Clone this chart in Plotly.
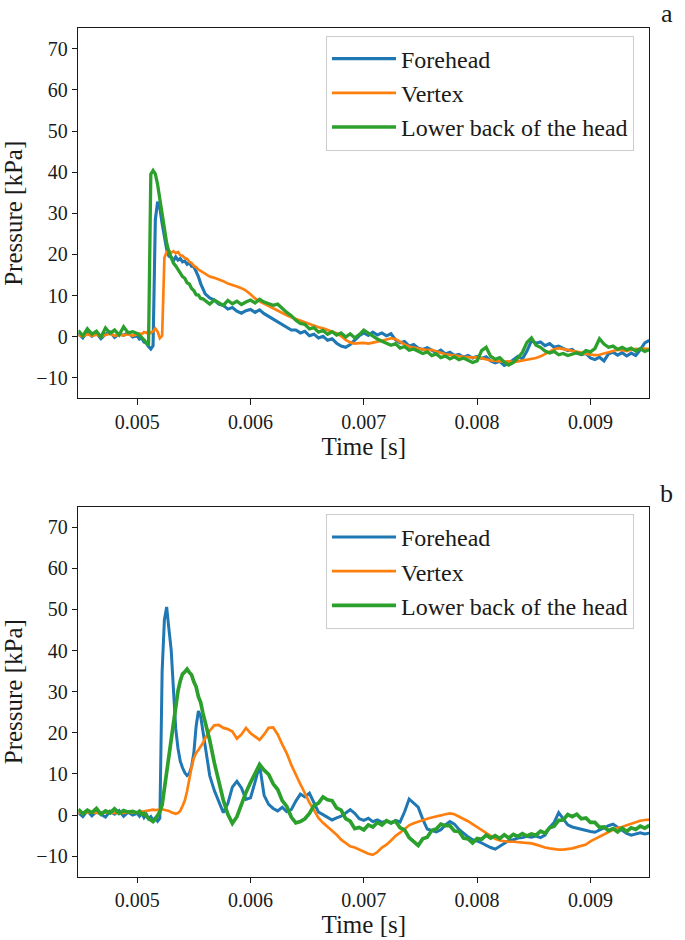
import plotly.graph_objects as go

# ---------------- data ----------------
# sample times in units of 1e-5 s (denser around the impact)
t_units = list(range(448, 500, 4)) + list(range(500, 560, 2)) + list(range(560, 953, 4))
time_s = [u / 1e5 for u in t_units]

series_names = ["Forehead", "Vertex", "Lower back of the head"]

# Panel a
a_forehead = [
    0.8, -0.3, 1.2, 0.1, 0.9, -0.5, 0.6, 1.1, -0.2, 0.7, 0.3, 1.0, -0.1,
    0.2, -0.6, -0.4, -1.3, -1.6, -2.4, -3.0, -2.2, 28.5, 32.8,
    31.2, 27.5, 24.3, 21.2, 19.6, 19.3, 18.5, 19.4, 18.6, 19.0,
    18.2, 18.4, 17.6, 18.0, 17.1, 17.0, 15.8, 14.6, 12.9, 11.4,
    10.4, 9.4, 8.9, 7.9, 7.6, 6.7, 7.1, 6.2, 5.7, 6.3,
    6.6, 5.9, 6.5, 5.6, 4.9, 4.4, 3.6, 2.9, 2.3, 1.6,
    1.6, 0.9, 1.3, 0.2, 0.6, -0.3, 0.1, -0.9, -0.5, -1.6,
    -2.3, -2.6, -1.9, -0.8, 0.2, 0.9, 0.3, 1.1, 0.4, 0.9,
    0.2, 0.7, -0.8, -1.5, -1.2, -2.3, -1.9, -2.8, -3.1, -2.7,
    -3.4, -3.9, -3.3, -4.2, -3.8, -4.6, -4.3, -5.0, -4.6, -5.2,
    -4.8, -5.3, -4.9, -5.9, -6.4, -6.0, -7.0, -6.5, -5.6, -4.8,
    -5.4, -3.5, -1.0, -1.6, -1.3, -2.2, -1.7, -2.6, -2.3, -2.9,
    -3.4, -3.1, -4.0, -4.4, -4.1, -5.2, -5.6, -5.0, -5.9, -4.2,
    -3.8, -4.5, -3.9, -4.7, -4.0, -4.6, -3.2, -1.5, -0.9,
]
a_vertex = [
    0.4, 0.1, 0.6, 0.2, 0.5, 0.0, 0.4, 0.7, 0.2, 0.5, 0.3, 0.6, 0.2,
    0.5, 0.8, 0.6, 1.1, 0.9, 1.4, 0.9, 1.3, 2.0, 1.2,
    -0.4, 0.2, 19.2, 20.6, 20.9, 20.4, 20.8, 20.3, 20.6, 19.8,
    19.7, 19.1, 18.9, 18.2, 17.9, 17.2, 16.9, 16.3, 16.0, 15.6,
    15.2, 14.6, 14.3, 13.9, 13.5, 12.9, 12.6, 12.2, 11.8, 11.2,
    10.3, 9.3, 8.6, 8.0, 7.5, 6.8, 6.3, 5.7, 5.2, 4.7,
    4.3, 3.9, 3.4, 3.0, 2.7, 2.3, 2.0, 1.6, 1.2, 0.8,
    0.1, -0.8, -1.4, -1.7, -1.6, -1.5, -1.7, -1.4, -1.2, -1.0,
    -0.7, -0.4, -0.6, -1.3, -1.9, -2.4, -2.7, -2.9, -3.1, -3.3,
    -3.2, -3.6, -4.0, -4.3, -4.4, -4.6, -4.8, -4.9, -5.0, -5.1,
    -5.0, -5.3, -5.5, -5.8, -5.9, -6.0, -6.1, -6.0, -6.2, -6.0,
    -5.8, -5.6, -5.4, -5.2, -4.8, -4.2, -3.6, -3.1, -2.8, -3.0,
    -3.3, -3.5, -3.6, -3.9, -4.2, -4.3, -4.5, -4.4, -4.1, -3.7,
    -3.4, -3.2, -3.3, -3.5, -3.2, -3.0, -3.1, -2.9, -3.0,
]
a_lower = [
    1.5, 0.2, 1.9, 0.6, 1.3, -0.1, 2.1, 0.8, 1.6, 0.4, 2.4, 0.9, 1.2,
    0.8, 0.3, -0.2, -0.8, -1.5, -2.1, 39.5, 40.4, 39.6, 37.0,
    33.4, 29.6, 26.3, 22.8, 20.6, 19.3, 17.9, 17.2, 16.3, 15.6,
    14.6, 14.2, 13.1, 12.8, 11.7, 11.2, 10.2, 10.1, 9.3, 9.2,
    8.7, 7.9, 8.9, 8.2, 7.6, 8.8, 8.0, 8.6, 7.8, 8.4,
    8.9, 8.2, 9.1, 8.4, 8.0, 7.6, 7.9, 6.8, 5.9, 5.1,
    4.0, 3.2, 3.0, 1.9, 2.2, 1.1, 1.5, 0.6, 1.2, 0.4,
    0.9, -0.1, 0.7, -0.3, 0.5, 1.6, 0.8, 0.2, -0.6, -1.1,
    -1.6, -2.1, -1.7, -2.8, -2.4, -3.3, -3.0, -3.6, -4.1, -3.7,
    -4.6, -4.2, -5.1, -4.7, -5.4, -4.9, -5.6, -5.2, -5.8, -6.3,
    -5.9, -3.4, -2.6, -4.8, -5.5, -5.1, -6.2, -6.9, -6.3, -5.2,
    -3.8, -1.4, -0.3, -2.1, -2.6, -3.5, -4.0, -3.6, -4.4, -4.1,
    -4.6, -4.2, -3.9, -4.3, -3.4, -3.7, -2.9, -0.5, -1.8, -2.6,
    -2.3, -3.1, -2.6, -3.2, -2.8, -3.5, -2.9, -3.6, -3.2,
]

# Panel b
b_forehead = [
    0.6, -0.4, 1.0, -0.2, 0.8, 0.1, -0.5, 0.9, 0.2, 1.1, -0.3, 0.7, 0.0,
    0.4, -0.3, 0.5, -0.6, 0.2, -0.9, -0.4, -1.3, -0.7, -1.5,
    -0.8, 35.0, 47.5, 50.6, 45.2, 40.1, 30.5, 21.0, 16.2, 13.1,
    11.5, 10.3, 9.6, 10.1, 11.8, 15.2, 21.6, 25.3, 24.0, 20.3,
    17.5, 9.6, 6.0, 3.2, 0.6, 2.8, 6.8, 8.2, 6.6, 3.8,
    4.2, 8.0, 12.2, 4.8, 2.6, 1.6, 1.0, 1.9, 0.8, 1.3,
    3.4, 5.1, 4.4, 5.3, 3.0, 0.7, 0.1, -0.6, -1.2, -0.7,
    -0.3, 0.5, 1.3, 0.4, -0.9, -1.3, -0.8, -1.6, -1.2, -1.8,
    -1.4, -2.0, -1.3, -1.7, 0.8, 3.9, 2.8, 1.9, -1.0, -3.4,
    -3.8, -4.1, -3.6, -2.4, -1.6, -2.2, -3.5, -4.5, -5.3, -6.0,
    -6.3, -6.8, -7.4, -7.9, -8.3, -7.6, -6.9, -6.2, -6.0, -5.6,
    -5.5, -5.2, -5.4, -5.1, -5.5, -4.9, -3.0, -1.8, 0.6, -0.8,
    -2.4, -2.9, -3.2, -3.5, -3.8, -4.0, -4.2, -3.6, -3.1, -2.6,
    -2.2, -2.9, -3.8, -4.5, -4.9, -4.6, -4.3, -4.6, -4.4,
]
b_vertex = [
    0.6, 0.5, 0.7, 0.6, 0.5, 0.6, 0.7, 0.5, 0.6, 0.6, 0.5, 0.7, 0.6,
    0.6, 0.7, 0.8, 0.9, 1.0, 1.1, 1.2, 1.3, 1.2, 1.2,
    1.3, 1.4, 1.3, 1.2, 1.0, 0.7, 0.4, 0.3, 0.5, 1.0,
    2.2, 3.5, 5.8, 9.0, 11.6, 13.9, 15.1, 15.8, 16.6, 17.5,
    18.7, 20.5, 21.8, 21.9, 21.2, 20.9, 20.3, 18.6, 19.6, 21.2,
    19.9, 19.0, 18.3, 19.6, 21.2, 21.3, 19.6, 17.2, 15.0, 12.2,
    9.7, 7.5, 5.3, 3.0, 1.2, -0.7, -1.9, -2.8, -3.7, -4.8,
    -6.0, -6.8, -7.6, -7.9, -8.4, -8.9, -9.4, -9.7, -9.0, -7.9,
    -7.2, -6.2, -5.1, -4.3, -3.4, -2.5, -2.0, -1.6, -1.3, -0.9,
    -0.6, -0.4, -0.1, 0.2, 0.4, 0.2, -0.3, -0.9, -1.5, -2.2,
    -2.9, -3.6, -4.4, -5.1, -5.8, -6.2, -6.4, -6.5, -6.5, -6.6,
    -6.7, -6.9, -6.9, -7.2, -7.6, -7.9, -8.1, -8.3, -8.4, -8.4,
    -8.3, -8.1, -7.8, -7.5, -7.2, -6.4, -5.8, -5.3, -4.8, -4.2,
    -3.6, -3.1, -2.9, -2.5, -2.1, -1.8, -1.4, -1.2, -1.1,
]
b_lower = [
    1.4, 0.3, 1.2, 0.6, 1.6, 0.2, 1.0, 0.5, 1.5, 0.4, 1.1, 0.7, 0.9,
    0.5, 0.9, 0.2, 0.4, -0.3, -0.8, -1.2, -1.6, -1.0, -0.2,
    0.8, 2.5, 6.5, 10.8, 15.0, 19.2, 23.2, 27.0, 30.2, 32.6,
    34.3, 34.8, 35.5, 34.7, 34.1, 32.4, 31.2, 28.8, 27.4, 24.8,
    22.8, 18.2, 12.8, 7.9, 3.6, 0.2, -2.0, -0.4, 2.6, 5.5,
    7.9, 10.2, 12.3, 10.9, 9.9, 7.6, 6.2, 3.5, 2.1, -0.5,
    -1.9, -1.6, -0.9, 0.4, 2.3, 2.9, 4.4, 3.7, 3.5, 1.7,
    1.2, -0.9, -1.5, -3.3, -3.0, -3.6, -2.4, -2.9, -1.8, -2.4,
    -1.4, -1.9, -1.5, -3.1, -3.6, -5.5, -6.5, -7.4, -5.8, -5.4,
    -3.7, -3.4, -2.2, -2.6, -2.6, -3.9, -4.0, -5.6, -5.8, -6.8,
    -5.7, -5.9, -4.9, -5.6, -5.0, -5.7, -4.8, -5.6, -4.7, -5.2,
    -4.5, -5.1, -4.6, -4.9, -3.9, -4.4, -3.1, -2.7, -1.3, -1.2,
    0.1, -0.4, 0.2, -0.9, -0.7, -1.8, -1.8, -3.0, -2.9, -3.8,
    -3.3, -4.1, -3.2, -4.0, -3.1, -3.5, -2.7, -3.2, -2.5,
]

x_tick_vals = [0.005, 0.006, 0.007, 0.008, 0.009]
y_tick_vals = [-10, 0, 10, 20, 30, 40, 50, 60, 70]
panel_labels = ["a", "b"]

for s in (a_forehead, a_vertex, a_lower, b_forehead, b_vertex, b_lower):
    assert len(s) == len(time_s), (len(s), len(time_s))

# ---------------- figure ----------------
FONT = "Times New Roman, Liberation Serif, serif"
INK = "#1a1a1a"
colors = ["#1f77b4", "#ff7f0e", "#2ca02c"]
widths_a = [3.1, 2.7, 3.3]
widths_b = [3.0, 2.7, 3.7]

fig = go.Figure()
panels = [
    ("x", "y", "legend", [a_forehead, a_vertex, a_lower], widths_a),
    ("x2", "y2", "legend2", [b_forehead, b_vertex, b_lower], widths_b),
]
for xa, ya, lg, data, wds in panels:
    for name, vals, col, wd in zip(series_names, data, colors, wds):
        fig.add_trace(go.Scatter(
            x=time_s, y=vals, mode="lines", name=name,
            line=dict(color=col, width=wd),
            xaxis=xa, yaxis=ya, legend=lg,
        ))

W, H = 685, 940
def px_x(p):
    return p / W
def px_y(p):
    return 1 - p / H

axis_common = dict(
    showline=True, linecolor=INK, linewidth=1.3, mirror=True,
    ticks="outside", ticklen=5.5, tickwidth=1.2, tickcolor=INK,
    showgrid=False, zeroline=False,
    tickfont=dict(family=FONT, size=20, color=INK),
)
x_common = dict(axis_common, range=[0.00448, 0.00952], tickvals=x_tick_vals,
                tickformat=".3f", domain=[px_x(78.3), px_x(649.3)],
                title=dict(text="Time [s]", font=dict(family=FONT, size=25, color=INK), standoff=4))
y_common = dict(axis_common, range=[-15, 75], tickvals=y_tick_vals,
                title=dict(text="Pressure [kPa]", font=dict(family=FONT, size=25, color=INK), standoff=6))

legend_common = dict(
    font=dict(family=FONT, size=24, color=INK),
    bgcolor="rgba(255,255,255,0.8)", bordercolor="#cccccc", borderwidth=1,
    xanchor="left", yanchor="top", itemwidth=64,
)

fig.update_layout(
    width=W, height=H,
    margin=dict(l=0, r=0, t=0, b=0),
    paper_bgcolor="white", plot_bgcolor="white",
    showlegend=True,
    xaxis=dict(x_common, anchor="y"),
    yaxis=dict(y_common, anchor="x", domain=[px_y(398.3), px_y(28.3)]),
    xaxis2=dict(x_common, anchor="y2"),
    yaxis2=dict(y_common, anchor="x2", domain=[px_y(876.7), px_y(506.7)]),
    legend=dict(legend_common, x=px_x(326), y=px_y(35.5)),
    legend2=dict(legend_common, x=px_x(326), y=px_y(513.9)),
    annotations=[
        dict(text=panel_labels[0], x=px_x(666.5), y=px_y(13), xref="paper", yref="paper",
             xanchor="center", yanchor="middle",
             showarrow=False, font=dict(family=FONT, size=26, color=INK)),
        dict(text=panel_labels[1], x=px_x(666.5), y=px_y(493), xref="paper", yref="paper",
             xanchor="center", yanchor="middle",
             showarrow=False, font=dict(family=FONT, size=26, color=INK)),
    ],
)

fig.write_html("out.html", config={"displayModeBar": False},
               post_script="document.body.style.margin='0';")
